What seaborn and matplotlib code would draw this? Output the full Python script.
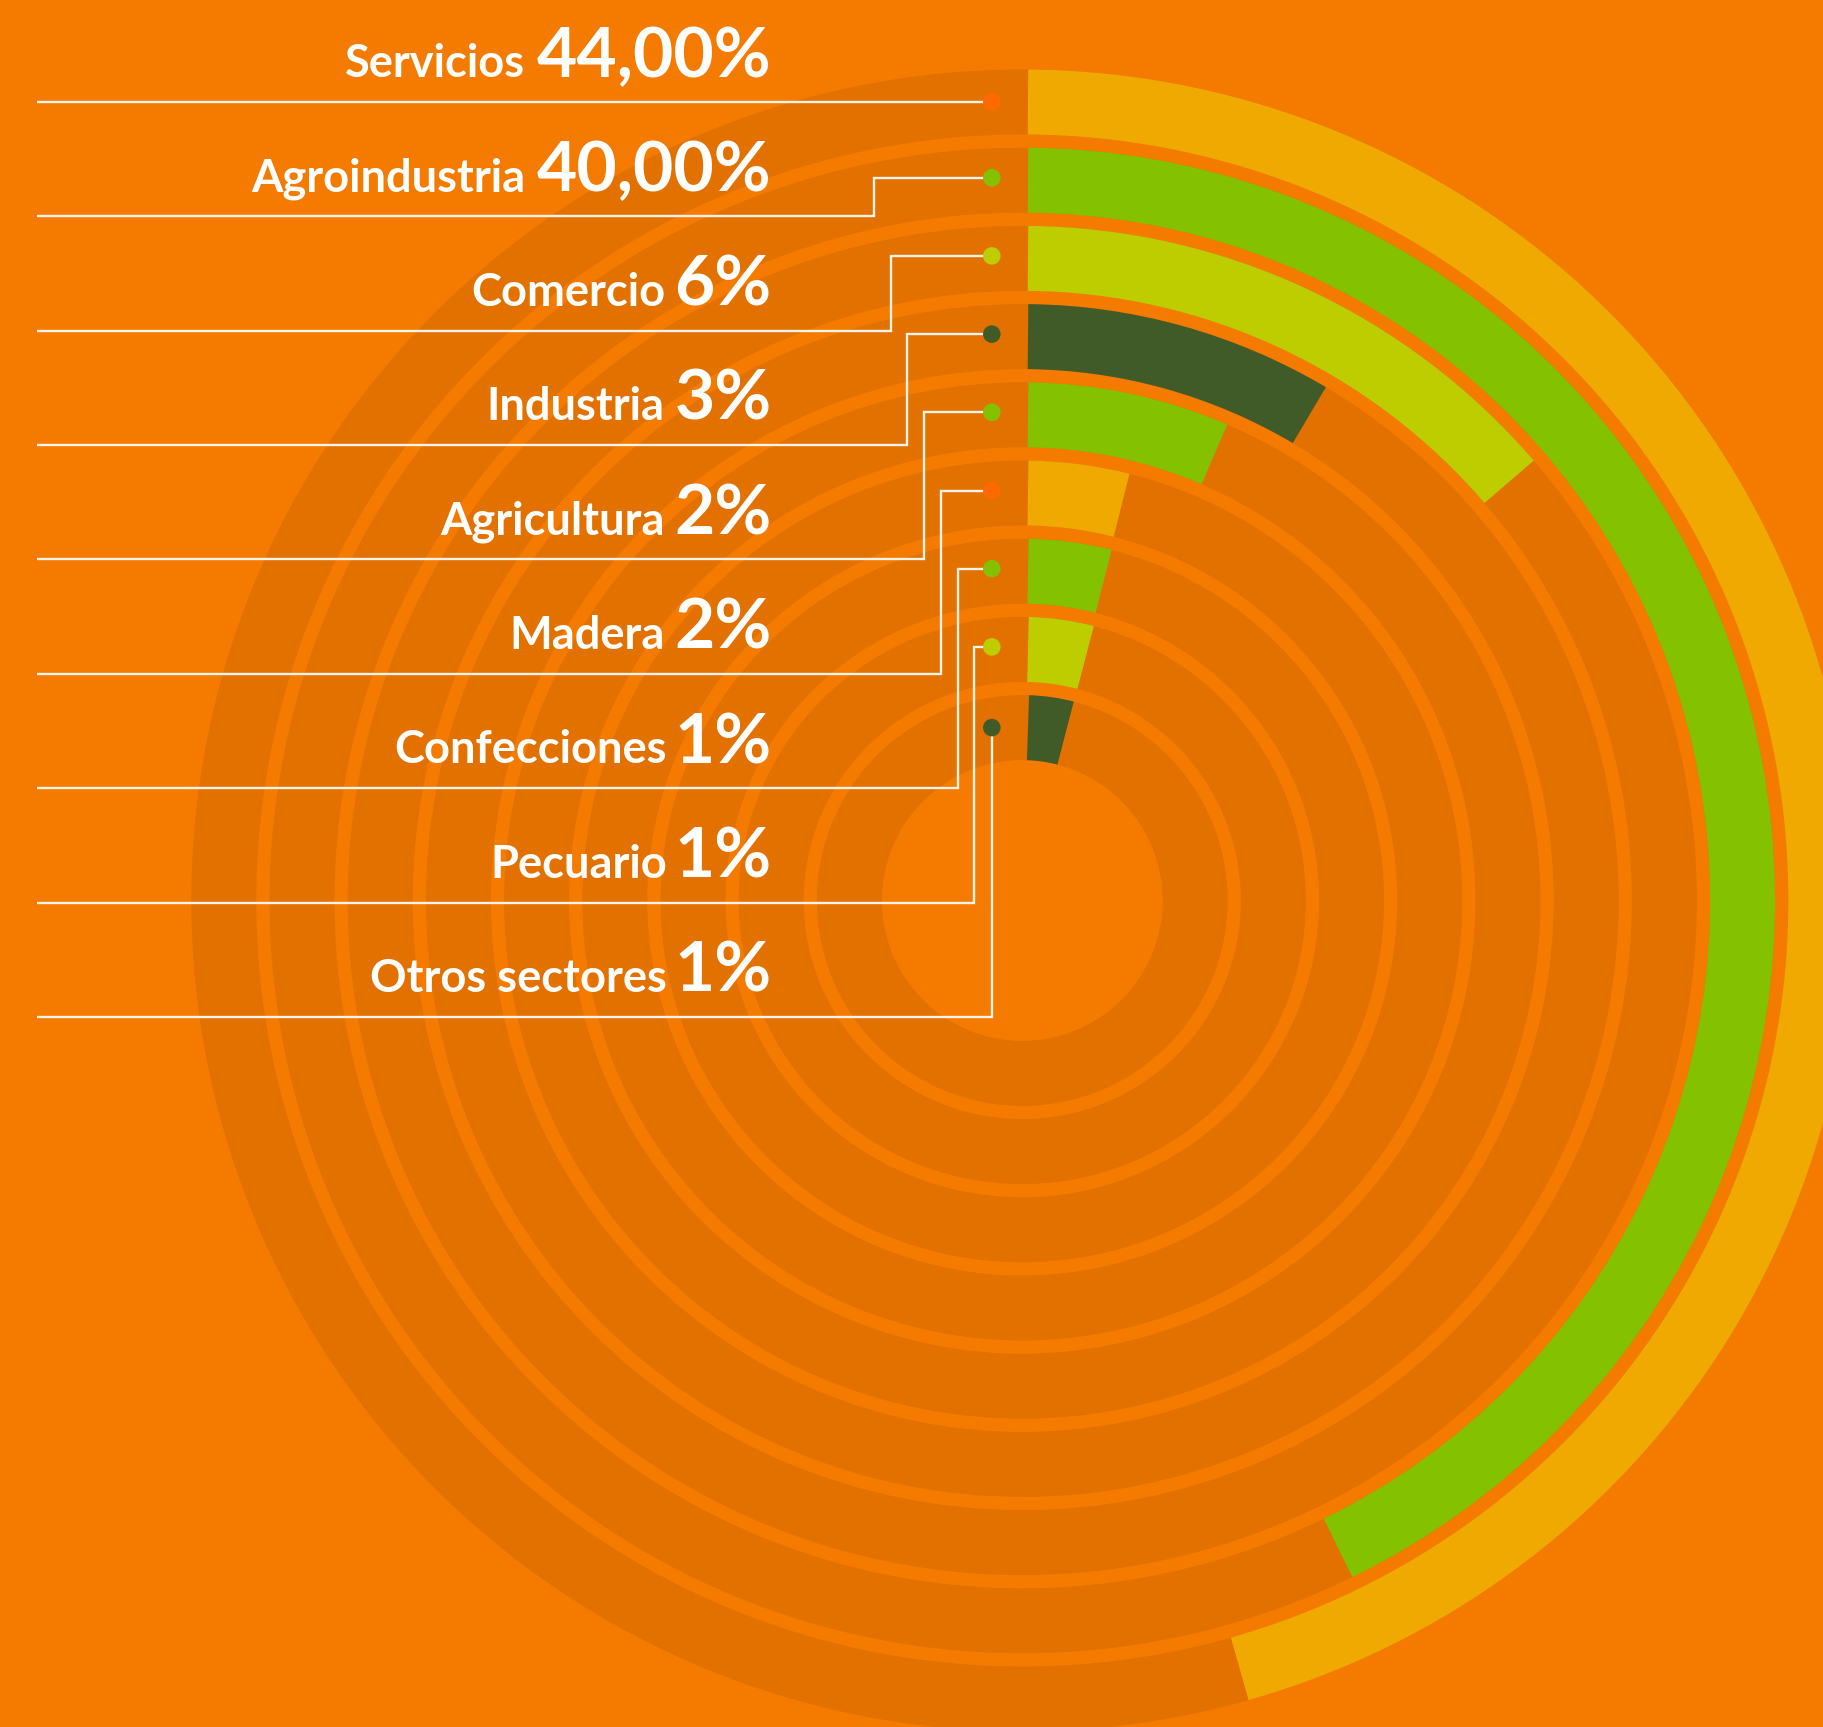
import numpy as np
import pandas as pd
import matplotlib
matplotlib.use("Agg")
import matplotlib.pyplot as plt
import seaborn as sns
from matplotlib.textpath import TextPath
from matplotlib.font_manager import FontProperties

# ---------------- data ----------------
sectors = ["Servicios", "Agroindustria", "Comercio", "Industria", "Agricultura",
           "Madera", "Confecciones", "Pecuario", "Otros sectores"]
pct_labels = ["44,00%", "40,00%", "6%", "3%", "2%", "2%", "1%", "1%", "1%"]
# sweep of every arc, in degrees clockwise from 12 o'clock, as drawn in the picture
arc_deg = [164.2, 154.0, 49.3, 30.6, 23.3, 14.1, 14.3, 14.6, 14.5]

# ---------------- styles ----------------
BG = "#F47B00"
TRACK = "#E27100"
AMBER = "#F0A900"
GREEN = "#84C100"
YGREEN = "#BECD00"
DGREEN = "#415B28"
REDOR = "#FF6A00"
bar_colors = [AMBER, GREEN, YGREEN, DGREEN, GREEN, AMBER, GREEN, YGREEN, DGREEN]
dot_colors = [REDOR, GREEN, YGREEN, DGREEN, GREEN, REDOR, GREEN, YGREEN, DGREEN]

# ---------------- layout (pixels) ----------------
W, H = 1824, 1727
CX, CY = 1022.3, 900.5
R_AX = 900
R_OUT, PITCH, BAND = 831.0, 78.2, 65.0
START_GAP = 5.7
DOT_X = CX - 30.5
DOT_SHIFT = 2.5
LINE_X0 = 37
LINE_Y0, LINE_STEP = 101.7, 114.4
ELBOW0, ELBOW_STEP = 874.0, 16.71
TEXT_RIGHT = 771.7
BASE_OFF = 25
PCT_SIZE, NAME_SIZE = 50, 32.6
INK_GAP = 12

sns.set_theme(style="white")
plt.rcParams["font.family"] = ["Lato", "DejaVu Sans"]

fig = plt.figure(figsize=(W / 100, H / 100), dpi=100, facecolor=BG)

pax = fig.add_axes([(CX - R_AX) / W, (H - CY - R_AX) / H, 2 * R_AX / W, 2 * R_AX / H],
                   projection="polar")
pax.set_theta_zero_location("N")
pax.set_theta_direction(-1)
pax.set_rlim(0, R_AX)
pax.axis("off")

n = len(sectors)
mids = []
for k in range(n):
    outer = R_OUT - k * PITCH
    inner = outer - BAND
    mid = inner + BAND / 2
    mids.append(mid)
    pax.bar(0, BAND, width=2 * np.pi, bottom=inner, align="edge",
            color=TRACK, edgecolor="none", linewidth=0)
    th0 = np.arcsin(START_GAP / mid)
    th1 = np.deg2rad(arc_deg[k])
    pax.bar(th0, BAND, width=th1 - th0, bottom=inner, align="edge",
            color=bar_colors[k], edgecolor="none", linewidth=0)

ov = fig.add_axes([0, 0, 1, 1])
ov.patch.set_alpha(0)

df = pd.DataFrame({
    "sector": sectors,
    "dot_x": [DOT_X] * n,
    "dot_y": [CY - m - (DOT_SHIFT if 0 < i < n - 1 else 0) for i, m in enumerate(mids)],
})

# leader lines
for k in range(n):
    ly = LINE_Y0 + k * LINE_STEP
    dy = df.loc[k, "dot_y"]
    ex = DOT_X if k in (0, n - 1) else ELBOW0 + (k - 1) * ELBOW_STEP
    ov.plot([LINE_X0, ex, ex, DOT_X], [ly, ly, dy, dy], color="white",
            lw=1.7, alpha=0.92, solid_capstyle="butt", solid_joinstyle="miter", zorder=2)

sns.scatterplot(data=df, x="dot_x", y="dot_y", hue="sector", palette=dot_colors,
                s=160, edgecolor="none", linewidth=0, legend=False, ax=ov, zorder=3)
ov.set_xlim(0, W)
ov.set_ylim(H, 0)
ov.axis("off")

pct_texts = []
for k in range(n):
    ly = LINE_Y0 + k * LINE_STEP
    t = ov.text(TEXT_RIGHT, ly - BASE_OFF, pct_labels[k], ha="right", va="baseline",
                fontsize=PCT_SIZE, fontweight="bold", color="white")
    pct_texts.append(t)

fig.canvas.draw()
rend = fig.canvas.get_renderer()
fp_pct = FontProperties(family=["Lato", "DejaVu Sans"], weight="bold")
fp_name = FontProperties(family=["Lato", "DejaVu Sans"], weight="bold")
px_per_pt = 100 / 72
for k in range(n):
    ly = LINE_Y0 + k * LINE_STEP
    bb = pct_texts[k].get_window_extent(rend)
    ink_pct = TextPath((0, 0), pct_labels[k], size=PCT_SIZE, prop=fp_pct).get_extents()
    ink_left = bb.x0 + ink_pct.x0 * px_per_pt
    name_path = TextPath((0, 0), sectors[k], size=NAME_SIZE, prop=fp_name)
    adv_w = name_path.vertices[:, 0].max()  # approximate ink right
    ov.text(ink_left - INK_GAP, ly - BASE_OFF, sectors[k], ha="right", va="baseline",
            fontsize=NAME_SIZE, fontweight="bold", color="white")

fig.savefig("out.png", dpi=100, facecolor=BG)
